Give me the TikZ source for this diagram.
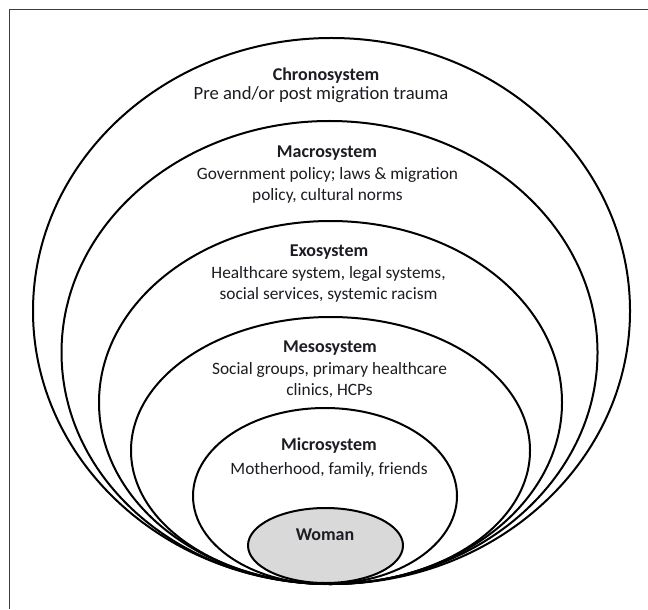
\documentclass[tikz,border=0pt]{standalone}
\usepackage{fontspec}
\setmainfont{Carlito}
\usetikzlibrary{shapes.geometric}
\definecolor{txt}{RGB}{28,28,34}
\definecolor{womanfill}{RGB}{217,217,217}
\definecolor{framec}{RGB}{60,60,60}
\begin{document}
\begin{tikzpicture}[x=0.75pt,y=-0.75pt,
  ring/.style={ellipse, draw=black, line width=1.5pt, inner sep=0pt, outer sep=0pt},
  ttl/.style={anchor=base, text=txt, inner sep=0pt, font=\fontsize{13.5}{16}\selectfont\bfseries},
  desc/.style={anchor=base, text=txt, inner sep=0pt, font=\fontsize{13}{15.75}\selectfont},
  bigdesc/.style={desc, font=\fontsize{14}{17}\selectfont}]
\useasboundingbox (0,0) rectangle (648,609);
\fill[white] (0,0) rectangle (648,609);
\draw[framec, line width=0.9pt] (9.5,609) -- (9.5,9.5) -- (648,9.5);
% rings
\node[ring, minimum width=447.75pt, minimum height=409.5pt] (chrono) at (331.5,311) {};
\node[ring, minimum width=402pt, minimum height=347.25pt] (macro) at (329.5,352.5) {};
\node[ring, minimum width=347.25pt, minimum height=272.25pt] (exo) at (330.5,402.5) {};
\node[ring, minimum width=299.25pt, minimum height=200.25pt] (meso) at (330.5,450.5) {};
\node[ring, minimum width=198pt, minimum height=132pt] (micro) at (325,496) {};
\node[ring, fill=womanfill, minimum width=116.25pt, minimum height=56.25pt] (woman) at (325.5,545.5) {};
% texts
\node[ttl] (chronoT) at (326,80.5) {Chronosystem};
\node[bigdesc] (chronoD) at (321,100) {Pre and/or post migration trauma};
\node[ttl] (macroT) at (327,157.5) {Macrosystem};
\node[desc] (macroD1) at (327.5,180) {Government policy; laws \& migration};
\node[desc] (macroD2) at (327.5,200.5) {policy, cultural norms};
\node[ttl] (exoT) at (329,256.5) {Exosystem};
\node[desc] (exoD1) at (328.5,278.5) {Healthcare system, legal systems,};
\node[desc] (exoD2) at (328.5,299) {social services, systemic racism};
\node[ttl] (mesoT) at (330,352.5) {Mesosystem};
\node[desc] (mesoD1) at (329.5,374.5) {Social groups, primary healthcare};
\node[desc] (mesoD2) at (329.5,395.5) {clinics, HCPs};
\node[ttl] (microT) at (329,450.5) {Microsystem};
\node[desc] (microD) at (329,474.5) {Motherhood, family, friends};
\node[ttl] (womanT) at (325,540) {Woman};
\end{tikzpicture}
\end{document}
